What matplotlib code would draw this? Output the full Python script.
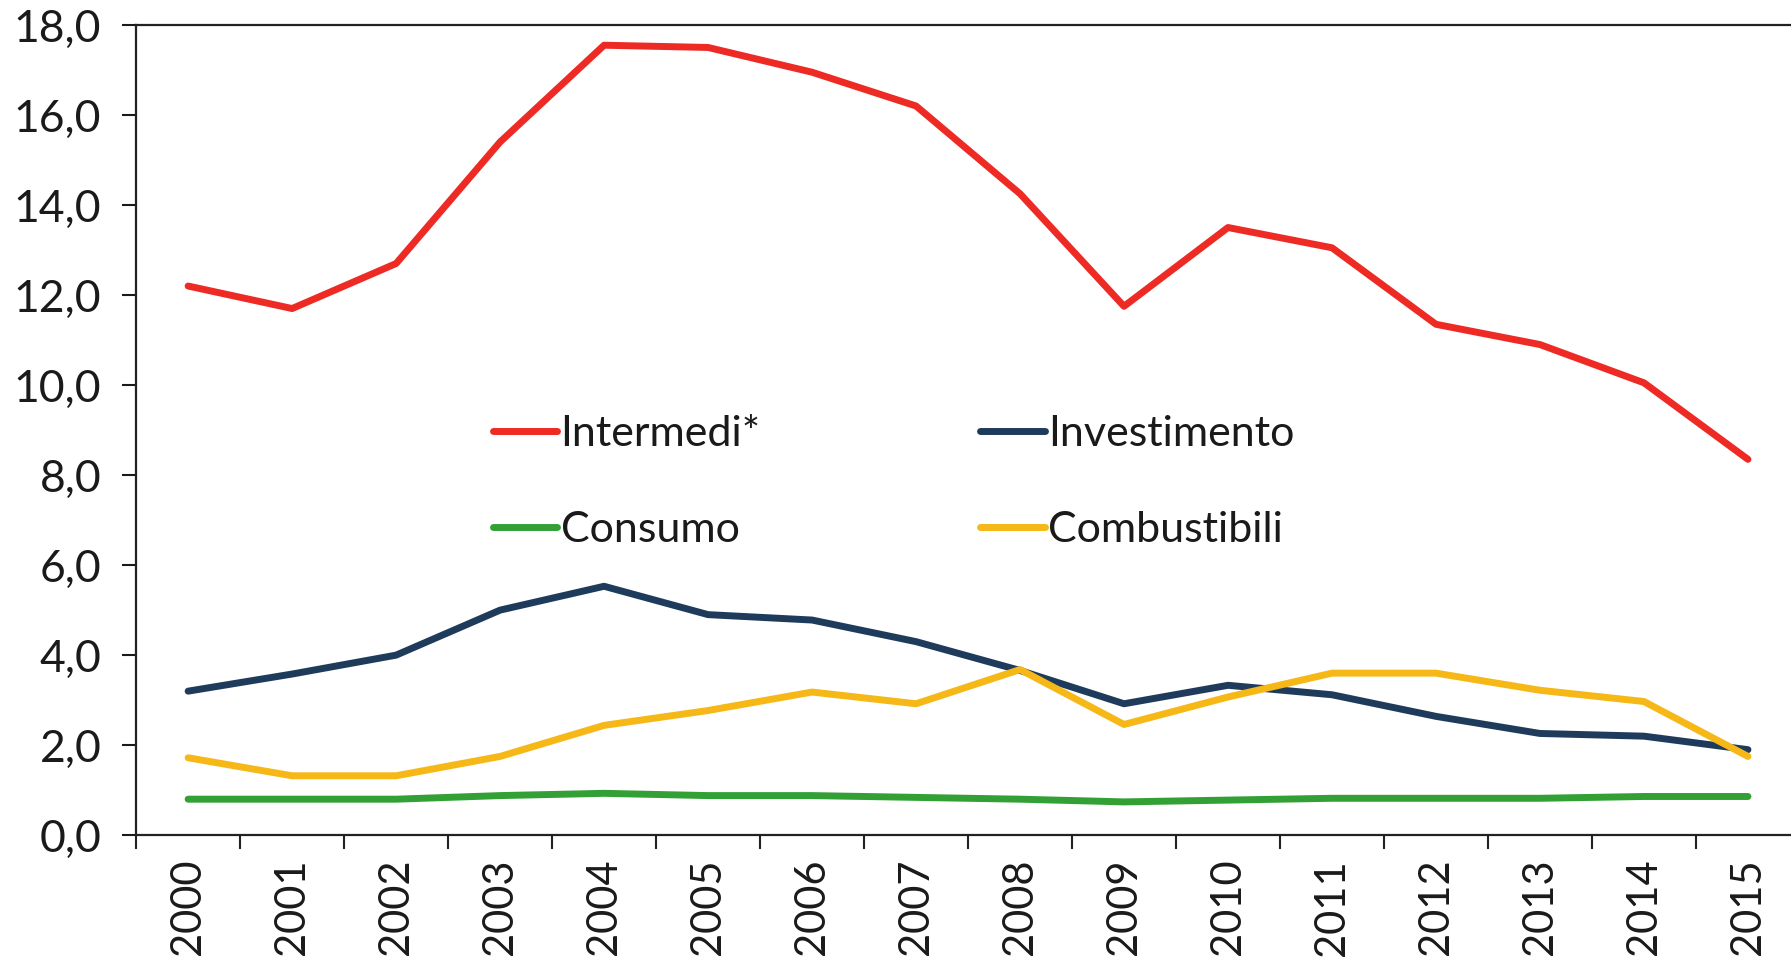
import matplotlib
matplotlib.use('Agg')
import matplotlib.pyplot as plt

plt.rcParams['font.family'] = ['Lato', 'DejaVu Sans']

# Data
years = ['2000', '2001', '2002', '2003', '2004', '2005', '2006', '2007',
         '2008', '2009', '2010', '2011', '2012', '2013', '2014', '2015']
intermedi = [12.2, 11.7, 12.7, 15.4, 17.55, 17.5, 16.95, 16.2,
             14.25, 11.75, 13.5, 13.05, 11.35, 10.9, 10.05, 8.35]
investimento = [3.2, 3.58, 4.0, 5.0, 5.53, 4.9, 4.78, 4.3,
                3.66, 2.92, 3.33, 3.12, 2.64, 2.26, 2.2, 1.9]
consumo = [0.8, 0.8, 0.8, 0.88, 0.93, 0.88, 0.88, 0.84,
           0.8, 0.74, 0.78, 0.82, 0.82, 0.82, 0.86, 0.86]
combustibili = [1.72, 1.32, 1.32, 1.75, 2.44, 2.77, 3.18, 2.92,
                3.68, 2.46, 3.07, 3.6, 3.6, 3.22, 2.97, 1.75]
y_ticks = [0, 2, 4, 6, 8, 10, 12, 14, 16, 18]

fig = plt.figure(figsize=(17.91, 9.6), dpi=100)
ax = fig.add_axes([0.076, 0.130, 0.929, 0.844])

x = list(range(len(years)))
lw = 5
ax.plot(x, intermedi, color='#EE2A24', lw=lw, solid_capstyle='round', label='Intermedi*')
ax.plot(x, consumo, color='#33A036', lw=lw, solid_capstyle='round', label='Consumo')
ax.plot(x, investimento, color='#1F3B5C', lw=lw, solid_capstyle='round', label='Investimento')
ax.plot(x, combustibili, color='#F5B816', lw=lw, solid_capstyle='round', label='Combustibili')

ax.set_ylim(0, 18)
ax.set_xlim(-0.5, len(years) - 0.5)
ax.set_yticks(y_ticks)
ax.set_yticklabels([f'{v:.1f}'.replace('.', ',') for v in y_ticks])

# ticks between categories, labels at category centers
ax.set_xticks([i - 0.5 for i in range(len(years) + 1)])
ax.set_xticklabels([])
ax.set_xticks(x, minor=True)
ax.set_xticklabels(years, minor=True, rotation=90)
ax.tick_params(axis='x', which='major', length=10, width=1.5, direction='out', color='#222222')
ax.tick_params(axis='x', which='minor', length=0, pad=17, labelsize=30, colors='#1a1a1a')
ax.tick_params(axis='y', length=10, width=1.5, direction='out', pad=15,
               labelsize=32, colors='#1a1a1a')

for s in ax.spines.values():
    s.set_linewidth(1.6)
    s.set_color('#222222')

leg = fig.legend(loc='center left', bbox_to_anchor=(0.275, 0.498), ncol=2,
                 frameon=False, fontsize=31, handlelength=1.5, handletextpad=0.08,
                 labelspacing=1.34, columnspacing=5.1, borderpad=0, borderaxespad=0)
for t in leg.get_texts():
    t.set_color('#1a1a1a')

plt.savefig('out.png', dpi=100)
